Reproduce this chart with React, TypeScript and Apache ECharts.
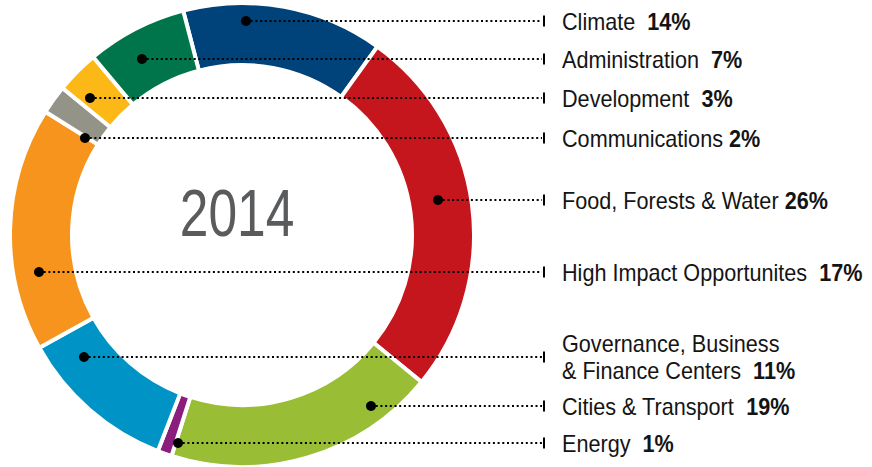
import React, { useEffect, useRef } from "react";
import * as echarts from "echarts";

// ---- data (pie order, clockwise from the top-left) ----
const categories = [
  "Climate",
  "Food, Forests & Water",
  "Cities & Transport",
  "Energy",
  "Governance, Business & Finance Centers",
  "High Impact Opportunites",
  "Communications",
  "Development",
  "Administration",
];
const shares = [14, 26, 19, 1, 11, 17, 2, 3, 7];
const colors = [
  "#00427a",
  "#c5161d",
  "#99bd35",
  "#8b1d7d",
  "#0093c5",
  "#f7941d",
  "#939388",
  "#fcb816",
  "#00744a",
];
const yearLabel = "2014";

// ---- legend rows, top to bottom ----
const rowOrder = [0, 8, 7, 6, 1, 5, 4, 2, 3];
const rowLabels = [
  "Climate",
  "Administration",
  "Development",
  "Communications",
  "Food, Forests & Water",
  "High Impact Opportunites",
  "Governance, Business\n& Finance Centers",
  "Cities & Transport",
  "Energy",
];
const rowGaps = ["  ", "  ", "  ", " ", " ", "  ", "  ", "  ", "  "];

// ---- layout (annotation placement) ----
const rowY = [21, 59, 98, 138, 200, 272, 357, 406, 443];
const dotX = [246, 142, 90, 85, 438, 39, 84, 371, 178];
const tickX = 544;
const textX = 562;

const FONT = "'Liberation Sans', Arial, sans-serif";

export default function App() {
  const ref = useRef<HTMLDivElement>(null);

  useEffect(() => {
    if (!ref.current) return;
    const chart = echarts.init(ref.current, undefined, { renderer: "svg" });

    const graphics: any[] = [];
    rowOrder.forEach((ci, i) => {
      const y = rowY[i];
      graphics.push({
        type: "line",
        z: 100,
        silent: true,
        shape: { x1: dotX[i], y1: y, x2: tickX - 2, y2: y },
        style: { stroke: "#000", lineWidth: 2, lineDash: [2, 2.7] },
      });
      graphics.push({
        type: "line",
        z: 100,
        silent: true,
        shape: { x1: tickX, y1: y - 5.5, x2: tickX, y2: y + 5.5 },
        style: { stroke: "#000", lineWidth: 2 },
      });
      graphics.push({
        type: "circle",
        z: 101,
        silent: true,
        shape: { cx: dotX[i], cy: y, r: 5 },
        style: { fill: "#000" },
      });
      graphics.push({
        type: "text",
        z: 100,
        silent: true,
        x: textX,
        y: y + 1,
        scaleX: 0.94,
        style: {
          text: `${rowLabels[i]}${rowGaps[i]}{b|${shares[ci]}%}`,
          fill: "#141414",
          fontSize: 23,
          fontFamily: FONT,
          lineHeight: 27,
          align: "left",
          verticalAlign: "middle",
          rich: {
            b: {
              fontSize: 23,
              fontFamily: FONT,
              fontWeight: "bold",
              fill: "#141414",
              lineHeight: 27,
            },
          },
        },
      });
    });

    graphics.push({
      type: "text",
      z: 100,
      silent: true,
      x: 237,
      y: 213,
      scaleX: 0.78,
      style: {
        text: yearLabel,
        fill: "#5a5b5d",
        fontSize: 66,
        fontFamily: FONT,
        align: "center",
        verticalAlign: "middle",
      },
    });

    chart.setOption({
      animation: false,
      series: [
        {
          type: "pie",
          center: [242, 235],
          radius: [170, 232],
          startAngle: 104.7,
          clockwise: true,
          silent: true,
          label: { show: false },
          labelLine: { show: false },
          itemStyle: { borderColor: "#fff", borderWidth: 4 },
          data: categories.map((name, i) => ({
            name,
            value: shares[i],
            itemStyle: { color: colors[i] },
          })),
        },
      ],
      graphic: graphics,
    });

    return () => chart.dispose();
  }, []);

  return (
    <div
      ref={ref}
      style={{ position: "fixed", left: 0, top: 0, width: 872, height: 467, background: "#fff" }}
    />
  );
}
